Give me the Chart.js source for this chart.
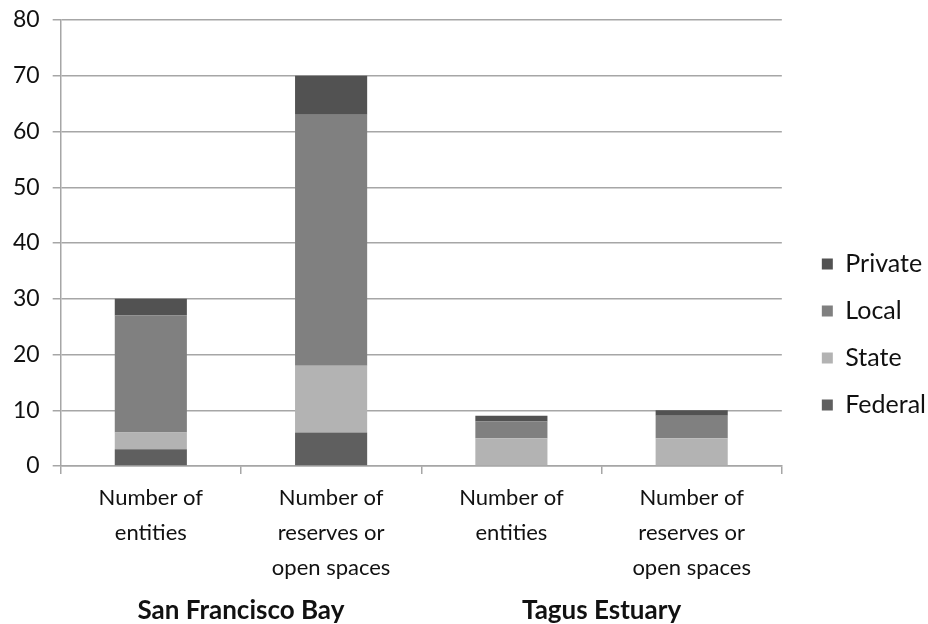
<!DOCTYPE html>
<html>
<head>
<meta charset="utf-8">
<script src="https://cdn.jsdelivr.net/npm/chart.js@4"></script>
<style>
  html, body { margin: 0; padding: 0; background: #ffffff; }
  #wrap { width: 928px; height: 624px; }
</style>
</head>
<body>
<div id="wrap"><canvas id="c" width="928" height="624"></canvas></div>
<script>
// Categories (two per site) and the site groups beneath them
const categories = [
  ['Number of', 'entities'],
  ['Number of', 'reserves or', 'open spaces'],
  ['Number of', 'entities'],
  ['Number of', 'reserves or', 'open spaces']
];
const groups = ['San Francisco Bay', 'Tagus Estuary'];

// Stacked values, bottom to top
const federal = [3, 6, 0, 0];
const state   = [3, 12, 5, 5];
const local   = [21, 45, 3, 4];
const priv    = [3, 7, 1, 1];

const yTicks = [0, 10, 20, 30, 40, 50, 60, 70, 80];

const FONT = 'Lato, "Liberation Sans", Arial, sans-serif';
const AXIS = '#a6a6a6';
const TEXT = '#111111';

new Chart(document.getElementById('c'), {
  type: 'bar',
  data: {
    labels: categories,
    datasets: [
      { label: 'Federal', data: federal, backgroundColor: '#5f5f5f' },
      { label: 'State',   data: state,   backgroundColor: '#b3b3b3' },
      { label: 'Local',   data: local,   backgroundColor: '#808080' },
      { label: 'Private', data: priv,    backgroundColor: '#525252' }
    ]
  },
  options: {
    responsive: false,
    animation: false,
    events: [],
    layout: { padding: { top: 0, right: -8, left: 0, bottom: 0 } },
    datasets: { bar: { categoryPercentage: 1.0, barPercentage: 0.4 } },
    plugins: {
      tooltip: { enabled: false },
      legend: {
        position: 'right',
        reverse: true,
        title: { display: true, text: ' ', padding: { top: 20, bottom: 0 }, font: { family: FONT, size: 21 } },
        labels: {
          color: TEXT,
          font: { family: FONT, size: 25 },
          boxWidth: 11,
          boxHeight: 11,
          padding: 22
        }
      }
    },
    scales: {
      x: {
        stacked: true,
        offset: true,
        grid: { display: true, drawOnChartArea: false, offset: true, color: AXIS, lineWidth: 1.5, tickLength: 8 },
        border: { display: true, color: AXIS, width: 1.5 },
        ticks: { color: TEXT, font: { family: FONT, size: 22, lineHeight: 1.6 }, padding: 6, maxRotation: 0, autoSkip: false },
        afterFit: (scale) => { scale.height = 122; }
      },
      groups: {
        type: 'category',
        labels: groups,
        position: 'bottom',
        offset: true,
        grid: { display: false, drawTicks: false, tickLength: 0 },
        border: { display: false },
        ticks: { color: TEXT, font: { family: FONT, size: 26, weight: 'bold', lineHeight: 1.0 }, padding: 10 },
        afterFit: (scale) => { scale.height = 36; }
      },
      y: {
        stacked: true,
        min: 0,
        max: 80,
        afterBuildTicks: (axis) => { axis.ticks = yTicks.map(v => ({ value: v })); },
        afterFit: (scale) => { scale.paddingTop = 20; },
        grid: { color: AXIS, lineWidth: 1.5, tickLength: 8 },
        border: { display: true, color: AXIS, width: 1.5 },
        ticks: { color: TEXT, font: { family: FONT, size: 23 }, padding: 13 }
      },
      // empty right-hand box keeping the legend clear of the plot
      gap: {
        type: 'linear',
        position: 'right',
        display: true,
        grid: { display: false },
        border: { display: false },
        ticks: { display: false },
        afterFit: (scale) => { scale.width = 18; }
      }
    }
  }
});
</script>
</body>
</html>
